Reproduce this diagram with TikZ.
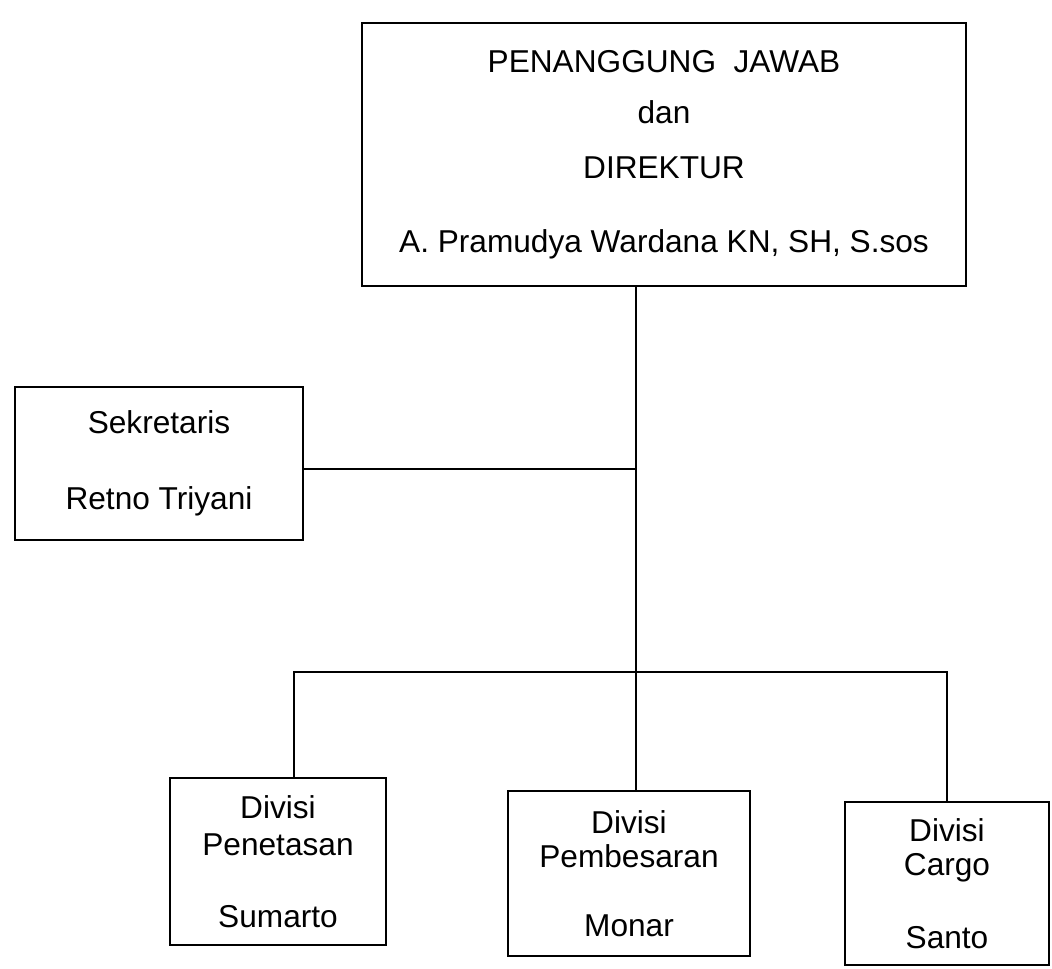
\documentclass[tikz,border=0pt]{standalone}
\usepackage{fontspec}
\setmainfont{Liberation Sans}
\usepackage{tikz}

\begin{document}
\begin{tikzpicture}[x=0.02cm,y=-0.02cm,kotak/.style={draw,line width=1.4pt,rectangle,align=center,inner sep=0pt,font=\fontsize{18}{21.6}\selectfont},garis/.style={line width=1.4pt}]
%\draw[help lines](0,0)grid[step=50](1052,968);
\useasboundingbox (0,0) rectangle (1052,968);
\node[kotak,minimum width=12.08cm,minimum height=5.26cm] (pj) at (664,154.5) {PENANGGUNG~~JAWAB\\[7.9pt]dan\\[9.6pt]DIREKTUR\\[20.4pt]A. Pramudya Wardana KN, SH, S.sos};
\node[kotak,minimum width=5.76cm,minimum height=3.06cm] (sek) at (159,463.5) {Sekretaris\\[21.5pt]Retno Triyani};
\node[kotak,minimum width=4.32cm,minimum height=3.34cm] (pen) at (278,861.5) {Divisi\\[-0.6pt]Penetasan\\[19.2pt]Sumarto};
\node[kotak,minimum width=4.84cm,minimum height=3.3cm] (pemb) at (629,873.5) {Divisi\\[-1.8pt]Pembesaran\\[17.5pt]Monar};
\node[kotak,minimum width=4.08cm,minimum height=3.26cm] (cargo) at (947,883.5) {Divisi\\[-1.8pt]Cargo\\[19.8pt]Santo};
\coordinate (j1) at (636,469);
\coordinate (j2) at (636,672);
\coordinate (d1) at (294,672);
\draw[garis] (pj.south -| j1) -- (j1) -- (j2) -- (j2 |- pemb.north);
\draw[garis] (j1) -- (j1 -| sek.east);
\draw[garis] (pen.north -| d1) -- (d1) -- (j2 -| cargo.north) -- (cargo.north);
\end{tikzpicture}
\end{document}
